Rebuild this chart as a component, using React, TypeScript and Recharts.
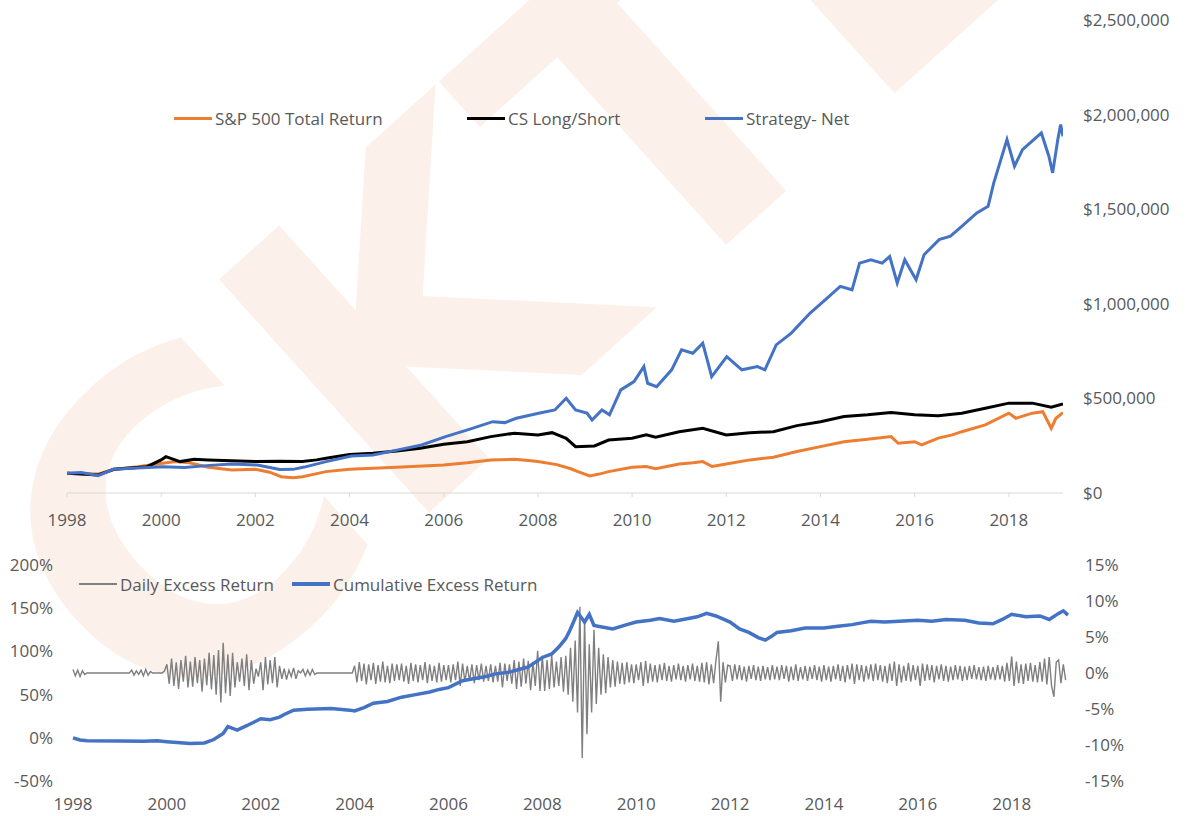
import { LineChart, Line, XAxis, YAxis, Legend } from 'recharts'

const FONT = '"Open Sans", sans-serif'
const TEXT = '#595959'
const GRID = '#d9d9d9'
const FS = 17

const YEAR_TICKS = [1998, 2000, 2002, 2004, 2006, 2008, 2010, 2012, 2014, 2016, 2018]
const VALUE_TICKS = [0, 500000, 1000000, 1500000, 2000000, 2500000]
const CUM_TICKS = [-50, 0, 50, 100, 150, 200]
const DAILY_TICKS = [-15, -10, -5, 0, 5, 10, 15]

// top panel, values in $k
const SP_YEARS = [1998, 1998.66, 1999, 1999.5, 2000.3, 2000.6, 2001, 2001.5, 2002, 2002.3, 2002.55, 2002.8, 2003, 2003.5, 2004, 2005, 2006, 2006.5, 2007, 2007.5, 2007.8, 2008, 2008.4, 2008.7, 2008.85, 2009.1, 2009.3, 2009.5, 2010, 2010.3, 2010.5, 2011, 2011.3, 2011.5, 2011.7, 2012, 2012.5, 2013, 2013.5, 2014, 2014.5, 2015, 2015.5, 2015.65, 2016, 2016.15, 2016.5, 2016.8, 2017, 2017.5, 2018, 2018.15, 2018.5, 2018.72, 2018.9, 2019, 2019.15]
const SP_VALUES = [105, 100, 125, 139, 166, 160, 136, 122, 125, 110, 86, 80, 86, 113, 125, 136, 148, 160, 175, 178, 172, 166, 150, 128, 113, 90, 100, 113, 136, 140, 128, 153, 160, 166, 140, 153, 175, 189, 219, 245, 271, 284, 298, 263, 271, 254, 290, 307, 324, 360, 422, 395, 422, 430, 342, 395, 425]

const CS_YEARS = [1998, 1998.66, 1999, 1999.7, 2000, 2000.1, 2000.4, 2000.7, 2001, 2002, 2002.5, 2003, 2003.3, 2003.5, 2004, 2004.5, 2005, 2005.5, 2006, 2006.5, 2007, 2007.5, 2008, 2008.3, 2008.6, 2008.8, 2009.2, 2009.5, 2010, 2010.3, 2010.5, 2011, 2011.5, 2012, 2012.5, 2013, 2013.5, 2014, 2014.5, 2015, 2015.5, 2016, 2016.5, 2017, 2017.5, 2018, 2018.5, 2018.9, 2019.15]
const CS_VALUES = [105, 95, 125, 139, 175, 192, 166, 178, 175, 166, 168, 166, 175, 184, 204, 210, 222, 236, 258, 271, 298, 316, 307, 319, 289, 245, 249, 280, 289, 307, 295, 324, 342, 307, 319, 324, 356, 377, 404, 413, 425, 413, 408, 422, 448, 475, 475, 453, 471]

const NET_YEARS = [1998, 1998.3, 1998.66, 1998.98, 1999.5, 2000.03, 2000.5, 2001.03, 2001.5, 2002.04, 2002.52, 2002.8, 2003.04, 2003.5, 2004.04, 2004.5, 2005.03, 2005.53, 2006.04, 2006.54, 2007.04, 2007.3, 2007.54, 2008.04, 2008.36, 2008.6, 2008.8, 2009.04, 2009.15, 2009.36, 2009.52, 2009.76, 2010.04, 2010.25, 2010.33, 2010.52, 2010.84, 2011.05, 2011.29, 2011.5, 2011.69, 2012.01, 2012.33, 2012.66, 2012.82, 2013.06, 2013.38, 2013.78, 2014.1, 2014.42, 2014.67, 2014.83, 2015.07, 2015.31, 2015.47, 2015.63, 2015.79, 2016.03, 2016.2, 2016.52, 2016.76, 2017, 2017.32, 2017.56, 2017.68, 2017.96, 2018.12, 2018.29, 2018.53, 2018.69, 2018.85, 2018.93, 2019.04, 2019.1, 2019.15]
const NET_VALUES = [105, 108, 92, 125, 132, 139, 135, 146, 153, 148, 124, 125, 137, 166, 195, 201, 228, 254, 298, 336, 377, 372, 395, 423, 439, 501, 439, 422, 386, 439, 413, 545, 589, 668, 580, 562, 651, 757, 739, 792, 615, 721, 651, 668, 651, 783, 845, 951, 1021, 1092, 1074, 1215, 1233, 1215, 1250, 1110, 1233, 1127, 1259, 1339, 1357, 1409, 1480, 1515, 1639, 1868, 1727, 1815, 1868, 1903, 1780, 1692, 1868, 1947, 1885]

// bottom panel, cumulative excess return in %
const CUM_YEARS = [1998, 1998.15, 1998.3, 1999, 1999.5, 1999.8, 2000, 2000.5, 2000.8, 2001, 2001.2, 2001.3, 2001.5, 2001.7, 2002, 2002.2, 2002.4, 2002.5, 2002.7, 2003, 2003.5, 2003.9, 2004, 2004.2, 2004.4, 2004.7, 2005, 2005.3, 2005.6, 2005.8, 2006, 2006.3, 2006.5, 2006.8, 2007, 2007.3, 2007.5, 2007.7, 2008, 2008.2, 2008.35, 2008.5, 2008.6, 2008.75, 2008.9, 2009, 2009.1, 2009.3, 2009.5, 2009.8, 2010, 2010.3, 2010.5, 2010.8, 2011, 2011.3, 2011.5, 2011.7, 2012, 2012.2, 2012.4, 2012.6, 2012.75, 2012.9, 2013, 2013.3, 2013.6, 2014, 2014.3, 2014.6, 2014.8, 2015, 2015.3, 2015.6, 2016, 2016.3, 2016.6, 2017, 2017.3, 2017.6, 2017.8, 2018, 2018.3, 2018.6, 2018.8, 2019, 2019.1, 2019.2]
const CUM_VALUES = [0, -2.5, -3.5, -3.8, -4, -3.5, -4.5, -6.5, -6, -2, 5, 13, 9, 14, 22, 21, 24, 27, 32, 33, 34, 32, 31, 35, 40, 42, 47, 50, 53, 56, 58, 66, 68, 71, 74, 76, 79, 82, 93, 97, 105, 115, 126, 145, 134, 143, 130, 128, 126, 131, 134, 136, 138, 135, 137, 140, 144, 141, 134, 126, 122, 116, 113, 118, 122, 124, 127, 127, 129, 131, 133, 135, 134, 135, 136, 135, 137, 136, 133, 132, 137, 143, 140, 141, 137, 144, 147, 142]

// daily excess return in %, one value every 0.05 year from 1998
const DAILY_START = 1998
const DAILY_STEP = 0.05
const DAILY_VALUES = [
  0.5, -0.4, 0.4, -0.5, 0.3, -0.2, 0, 0, 0, 0, 0, 0, 0, 0, 0, 0, 0, 0, 0, 0,
  0, 0, 0, 0, 0, 0.4, -0.3, 0.3, -0.2, 0.4, -0.4, 0.5, -0.3, 0.2, 0, 0, 0, 0, 0, 0.3,
  1.2, -1.5, 2.0, -1.8, 1.5, -2.2, 1.8, -1.2, 2.4, -2.0, 1.6, -1.9, 2.2, -1.4, 1.8, -2.6, 2.0, -1.7, 2.8, -2.3,
  2.5, -3.0, 3.2, -4.1, 4.2, -2.8, 2.6, -3.2, 2.8, -2.0, 1.5, -1.2, 2.0, -1.8, 2.6, -2.4, 1.8, -1.5, 0.6, -0.5,
  1.5, -2.4, 2.2, -1.6, 1.8, -1.4, 2.2, -2.0, 1.0, -0.8, 0.6, -0.9, 0.4, -0.5, 0.7, -0.8, 0.3, 0, 0.5, -0.4,
  0.4, -0.3, 0.5, -0.2, 0, 0, 0, 0, 0, 0, 0, 0, 0, 0, 0, 0, 0, 0, 0, 0,
  1.0, -1.3, 1.5, -1.1, 1.3, -1.6, 1.2, -1.0, 1.4, -1.5, 1.1, -1.2, 1.6, -1.3, 1.0, -1.4, 1.3, -1.1, 1.2, -1.0,
  1.3, -1.2, 1.0, -1.5, 1.4, -1.1, 1.2, -1.3, 1.1, -1.0, 1.5, -1.4, 1.2, -1.1, 1.0, -1.3, 1.4, -1.2, 1.1, -1.0,
  1.1, -1.3, 1.2, -1.0, 1.6, -1.8, 1.3, -1.2, 1.0, -1.1, 1.2, -1.4, 1.1, -1.0, 1.3, -1.2, 1.0, -1.1, 1.2, -1.3,
  1.0, -1.2, 1.4, -2.0, 1.3, -1.1, 1.2, -1.5, 1.8, -2.2, 1.6, -1.9, 2.0, -1.5, 1.7, -2.4, 1.5, -1.8, 3.1, -2.5,
  2.4, -2.5, 1.8, -2.2, 2.5, -2.0, 1.6, -1.8, 2.2, -2.6, 2.4, -3.0, 3.5, -4.0, 4.5, -5.5, 9.2, -11.8, 7.5, -8.5,
  4.0, -5.5, 6.0, -4.3, 3.5, -3.0, 2.6, -2.8, 2.2, -2.0, 1.8, -1.9, 1.6, -1.5, 1.4, -1.6, 1.5, -1.3, 1.2, -1.4,
  1.2, -1.0, 1.5, -1.8, 1.7, -1.4, 1.3, -1.2, 1.1, -1.3, 1.2, -1.0, 1.4, -1.1, 1.0, -1.2, 1.1, -0.9, 1.3, -1.0,
  1.0, -1.2, 1.1, -0.9, 1.3, -1.1, 1.0, -1.2, 1.4, -1.3, 1.5, -1.6, 1.2, -1.4, 1.8, 4.4, -4.0, 1.5, -1.3, 1.1,
  1.0, -1.1, 1.2, -0.9, 1.1, -1.0, 0.9, -1.2, 1.0, -0.8, 1.1, -1.0, 0.9, -1.1, 1.0, -0.9, 0.8, -1.0, 1.1, -0.9,
  0.9, -1.0, 1.1, -0.8, 1.0, -1.2, 0.9, -1.0, 1.2, -1.1, 0.8, -0.9, 1.0, -1.1, 0.9, -0.8, 1.1, -1.0, 0.9, -1.2,
  1.1, -1.0, 0.9, -1.2, 1.0, -0.9, 1.2, -1.1, 1.0, -1.3, 1.1, -0.9, 1.3, -1.5, 1.2, -1.0, 1.1, -1.2, 1.0, -0.9,
  1.2, -1.1, 1.3, -1.0, 1.1, -1.2, 1.0, -1.4, 1.3, -1.1, 1.6, -1.8, 1.2, -1.3, 1.0, -1.1, 1.4, -1.2, 1.1, -1.0,
  1.0, -1.8, 1.3, -1.1, 1.2, -1.0, 1.1, -1.3, 1.0, -0.9, 1.2, -1.1, 1.0, -1.2, 0.9, -1.0, 1.1, -0.9, 1.0, -1.1,
  0.9, -1.0, 1.0, -0.8, 1.1, -0.9, 0.8, -1.0, 0.9, -1.1, 1.0, -0.9, 0.8, -1.0, 1.1, -0.9, 1.0, -1.2, 1.4, -1.1,
  2.3, -1.8, 1.6, -1.4, 1.2, -1.5, 1.3, -1.1, 1.4, -1.2, 1.1, -1.3, 1.5, -1.2, 2.0, -1.6, 2.2, -1.8, -3.3, 1.5,
  1.8, -1.4, 1.2, -1.0,
]

const zip = (xs: number[], ys: number[], scale = 1) => xs.map((t, i) => ({ t, v: ys[i] * scale }))

const spData = zip(SP_YEARS, SP_VALUES, 1000)
const csData = zip(CS_YEARS, CS_VALUES, 1000)
const netData = zip(NET_YEARS, NET_VALUES, 1000)
const cumData = zip(CUM_YEARS, CUM_VALUES)
const dailyData = DAILY_VALUES.map((v, i) => ({ t: DAILY_START + i * DAILY_STEP, v }))

const tickStyle = { fontSize: FS, fill: TEXT, fontFamily: FONT }

type Item = { label: string; color: string; width: number; left: number }

const TOP_LEGEND: Item[] = [
  { label: 'S&P 500 Total Return', color: '#ED7D31', width: 3, left: 174 },
  { label: 'CS Long/Short', color: '#000000', width: 3, left: 467 },
  { label: 'Strategy- Net', color: '#4472C4', width: 3, left: 705 },
]
const BOTTOM_LEGEND: Item[] = [
  { label: 'Daily Excess Return', color: '#7F7F7F', width: 1.5, left: 79 },
  { label: 'Cumulative Excess Return', color: '#4472C4', width: 4, left: 292 },
]

function LegendRow({ items }: { items: Item[] }) {
  return (
    <div style={{ position: 'relative', width: 1186, height: 24 }}>
      {items.map((it) => (
        <div
          key={it.label}
          style={{ position: 'absolute', left: it.left, top: 0, display: 'flex', alignItems: 'center', height: 24 }}
        >
          <span style={{ display: 'inline-block', width: 38, height: it.width, background: it.color }} />
          <span style={{ marginLeft: 3, fontSize: FS, color: TEXT, fontFamily: FONT, whiteSpace: 'nowrap' }}>
            {it.label}
          </span>
        </div>
      ))}
    </div>
  )
}

// faint logo text behind the charts
function Watermark() {
  return (
    <svg width={1186} height={816} style={{ position: 'absolute', left: 0, top: 0 }}>
      <text
        x={165}
        y={750}
        fontSize={430}
        fontWeight={700}
        fontFamily="DejaVu Sans"
        fill="#FBF0EA"
        transform="rotate(-42 165 750)"
      >
        CKTE
      </text>
    </svg>
  )
}

export default function App() {
  return (
    <div style={{ position: 'absolute', left: 0, top: 0, width: 1186, height: 816, background: '#fff', overflow: 'hidden' }}>
      <Watermark />
      <div style={{ position: 'absolute', left: 0, top: 0 }}>
        <LineChart width={1186} height={540} margin={{ top: 20, right: 0, left: 67, bottom: 0 }}>
          <XAxis
            dataKey="t"
            type="number"
            domain={[1998, 2019.15]}
            ticks={YEAR_TICKS}
            allowDataOverflow
            height={47}
            tick={tickStyle}
            stroke={GRID}
            tickSize={4}
            tickMargin={17}
          />
          <YAxis
            yAxisId="r"
            orientation="right"
            type="number"
            domain={[0, 2500000]}
            ticks={VALUE_TICKS}
            width={123}
            axisLine={false}
            tickLine={false}
            tickSize={0}
            tickMargin={20}
            tick={{ ...tickStyle, textAnchor: 'start' }}
            tickFormatter={(v) => `$${Number(v).toLocaleString('en-US')}`}
          />
          <Legend
            verticalAlign="middle"
            wrapperStyle={{ top: 106, left: 0 }}
            content={() => <LegendRow items={TOP_LEGEND} />}
          />
          <Line yAxisId="r" data={spData} dataKey="v" name="S&P 500 Total Return" stroke="#ED7D31" strokeWidth={3} dot={false} isAnimationActive={false} />
          <Line yAxisId="r" data={csData} dataKey="v" name="CS Long/Short" stroke="#000000" strokeWidth={3} dot={false} isAnimationActive={false} />
          <Line yAxisId="r" data={netData} dataKey="v" name="Strategy- Net" stroke="#4472C4" strokeWidth={3} dot={false} isAnimationActive={false} />
        </LineChart>
      </div>
      <div style={{ position: 'absolute', left: 0, top: 540 }}>
        <LineChart width={1186} height={276} margin={{ top: 25, right: 0, left: 0, bottom: 0 }}>
          <XAxis
            dataKey="t"
            type="number"
            domain={[1998, 2019.2]}
            ticks={YEAR_TICKS}
            height={35}
            axisLine={false}
            tickLine={false}
            tickSize={0}
            tickMargin={17}
            tick={tickStyle}
          />
          <YAxis
            yAxisId="l"
            type="number"
            domain={[-50, 200]}
            ticks={CUM_TICKS}
            width={73}
            axisLine={false}
            tickLine={false}
            tickSize={0}
            tickMargin={20}
            tick={tickStyle}
            tickFormatter={(v) => `${v}%`}
          />
          <YAxis
            yAxisId="d"
            orientation="right"
            type="number"
            domain={[-15, 15]}
            ticks={DAILY_TICKS}
            width={118}
            axisLine={false}
            tickLine={false}
            tickSize={0}
            tickMargin={17}
            tick={{ ...tickStyle, textAnchor: 'start' }}
            tickFormatter={(v) => `${v}%`}
          />
          <Legend
            verticalAlign="middle"
            wrapperStyle={{ top: 32, left: 0 }}
            content={() => <LegendRow items={BOTTOM_LEGEND} />}
          />
          <Line yAxisId="d" data={dailyData} dataKey="v" name="Daily Excess Return" stroke="#7F7F7F" strokeWidth={1.4} dot={false} isAnimationActive={false} />
          <Line yAxisId="l" data={cumData} dataKey="v" name="Cumulative Excess Return" stroke="#4472C4" strokeWidth={3.5} dot={false} isAnimationActive={false} />
        </LineChart>
      </div>
    </div>
  )
}
